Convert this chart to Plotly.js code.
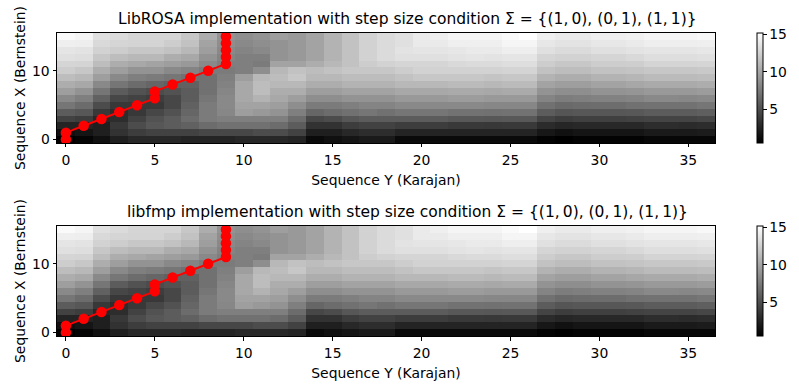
<!DOCTYPE html>
<html>
<head>
<meta charset="utf-8">
<script src="https://cdn.plot.ly/plotly-3.0.1.min.js"></script>
<style>html,body{margin:0;padding:0;background:#fff;}#chart{width:799px;height:389px;}</style>
</head>
<body>
<div id="chart"></div>
<script>
// Cost matrix rows (row index = Sequence X (Bernstein), column index = Sequence Y (Karajan))
const costRow00 = [0.5,0.8,1.4,2.3,2.8,2.8, 2.8,2.6,2.6,2.6,2.8,2.8, 2.8,2.6,1.1,1.4,1.7,2.0, 2.0,1.1,1.1,1.1,1.1,1.1, 1.1,1.1,1.1,0.7,0.5,0.7, 0.7,0.7,0.7,0.9,0.9,0.9,0.9];
const costRow01 = [1.4,1.7,2.3,3.4,4.0,4.3, 4.3,4.3,4.6,4.6,4.6,4.9, 4.9,4.3,2.3,2.3,2.8,3.1, 3.1,2.6,2.6,2.6,2.6,2.6, 2.6,2.6,2.6,1.8,1.5,1.7, 1.7,1.7,1.7,2.0,2.0,2.0,2.1];
const costRow02 = [2.6,2.6,2.3,3.7,4.9,5.5, 5.8,6.1,6.7,7.0,7.0,7.0, 6.7,5.8,3.4,3.4,4.0,4.3, 4.3,4.0,4.0,4.0,3.8,3.8, 3.7,3.8,3.8,3.0,2.7,2.8, 2.8,2.8,2.8,3.1,3.1,3.0,3.1];
const costRow03 = [4.3,4.0,2.8,3.1,4.3,5.2, 5.8,6.7,7.6,7.8,7.8,7.8, 7.8,6.7,4.6,4.9,5.5,5.8, 5.8,5.8,5.8,5.8,5.6,5.6, 5.5,5.6,5.6,4.4,4.0,4.2, 4.2,4.2,4.3,4.4,4.4,4.4,4.6];
const costRow04 = [5.8,5.5,3.7,3.1,3.7,4.6, 5.2,6.4,7.6,8.3,9.6,9.3, 9.0,7.8,6.4,6.7,7.0,7.3, 7.0,7.3,7.3,7.3,7.1,7.1, 7.0,7.1,7.1,5.8,5.4,5.5, 5.5,5.5,5.6,5.8,5.8,5.8,6.0];
const costRow05 = [7.3,6.7,4.9,3.7,3.7,3.7, 4.6,6.1,7.6,8.4,9.9,9.9, 9.6,8.7,7.6,7.6,7.8,8.1, 8.1,8.4,8.4,8.4,8.4,8.4, 8.3,8.3,8.3,7.0,6.6,6.7, 6.8,6.8,7.0,7.1,7.1,7.1,7.3];
const costRow06 = [8.4,7.8,6.1,4.6,4.3,4.0, 4.6,5.8,7.3,8.4,10.2,10.8, 10.2,9.6,8.7,8.7,9.0,9.0, 9.0,9.3,9.3,9.3,9.5,9.5, 9.3,9.3,9.3,8.1,7.7,7.8, 8.0,8.0,8.1,8.4,8.4,8.3,8.4];
const costRow07 = [9.6,9.0,7.3,5.8,5.2,4.9, 5.2,5.8,7.0,8.2,10.2,11.4, 10.5,10.5,9.6,9.6,9.9,9.9, 9.9,10.2,10.2,10.2,10.3,10.3, 10.2,10.3,10.3,9.0,8.7,8.7, 9.0,9.0,9.1,9.3,9.3,9.3,9.5];
const costRow08 = [10.5,10.2,8.4,7.3,6.7,6.4, 6.1,6.1,7.0,8.0,10.2,11.4, 11.1,11.1,10.5,10.5,10.8,10.8, 10.8,11.1,11.1,11.1,11.3,11.3, 11.1,11.3,11.3,9.9,9.6,9.6, 9.9,9.9,10.1,10.3,10.3,10.3,10.5];
const costRow09 = [11.4,11.1,9.6,8.4,7.8,7.6, 7.3,7.0,7.0,7.8,9.6,11.1, 11.4,12.0,11.1,11.1,11.4,11.4, 11.4,11.7,12.0,12.0,12.0,12.0, 11.8,12.0,12.0,10.8,10.5,10.5, 10.8,10.8,11.0,11.3,11.3,11.3,11.4];
const costRow10 = [12.3,12.0,10.5,9.6,9.0,9.0, 8.4,8.1,7.6,7.6,7.8,8.7, 11.1,11.7,11.4,11.7,12.0,12.0, 12.0,12.3,12.6,12.6,12.6,12.6, 12.6,12.7,12.7,11.7,11.4,11.4, 11.7,11.7,11.8,12.0,12.0,12.0,12.1];
const costRow11 = [12.8,12.7,11.4,10.5,10.2,9.9, 9.6,9.3,8.4,7.8,7.8,7.6, 9.9,9.9,10.5,11.1,11.7,12.3, 12.6,12.8,12.8,12.8,13.0,13.1, 13.1,13.3,13.3,12.3,12.0,12.0, 12.3,12.3,12.4,12.7,12.7,12.7,12.8];
const costRow12 = [13.4,13.3,12.0,11.4,11.1,11.1, 10.5,10.2,9.0,8.1,7.8,7.8, 9.0,9.3,9.9,10.8,11.7,12.6, 13.1,13.4,13.4,13.4,13.6,13.7, 13.6,13.7,13.7,12.8,12.6,12.6, 12.8,12.8,13.0,13.3,13.3,13.3,13.4];
const costRow13 = [13.7,13.6,12.6,12.3,12.0,12.0, 11.7,11.1,9.6,8.4,8.1,8.4, 9.0,9.3,9.9,10.8,11.7,12.6, 13.1,13.6,13.7,13.7,13.8,14.0, 14.0,14.2,14.2,13.4,13.1,13.1, 13.4,13.4,13.6,13.7,13.7,13.7,13.8];
const costRow14 = [14.3,14.2,13.0,12.8,12.7,12.7, 12.3,11.7,9.9,8.7,8.4,8.7, 9.0,9.3,9.9,10.8,11.7,12.6, 13.1,13.4,14.0,14.0,14.3,14.3, 14.3,14.6,14.6,13.8,13.6,13.6, 13.8,13.8,14.0,14.2,14.2,14.2,14.3];
const costRow15 = [14.9,14.6,13.4,13.1,12.8,12.8, 12.8,12.0,10.5,9.0,8.7,9.0, 9.6,9.3,9.9,10.8,11.7,12.6, 13.1,13.4,14.0,14.3,14.6,14.6, 14.6,14.9,15.2,14.3,14.0,14.0, 14.3,14.3,14.4,14.6,14.6,14.6,14.8];

// Optimal warping path (column = Sequence Y index, row = Sequence X index)
const pathY = [0,0,1,2,3,4,5,5,6,7,8,9,9,9,9,9];
const pathX = [0,1,2,3,4,5,6,7,8,9,10,11,12,13,14,15];

const titles = [
  'LibROSA implementation with step size condition Σ = {(1,\u20090), (0,\u20091), (1,\u20091)}',
  'libfmp implementation with step size condition Σ = {(1,\u20090), (0,\u20091), (1,\u20091)}'
];
const xTicks = [0,5,10,15,20,25,30,35];
const yTicks = [0,10];
const cbTicks = [5,10,15];

const z = [costRow00,costRow01,costRow02,costRow03,costRow04,costRow05,costRow06,costRow07,
           costRow08,costRow09,costRow10,costRow11,costRow12,costRow13,costRow14,costRow15];

const FONT = 'DejaVu Sans, sans-serif';
const FS = 13.9;
const gray = [[0,'#000000'],[1,'#ffffff']];

function cb(yTop){
  return {
    x: 1.062, xanchor:'left', y: yTop, yanchor:'top', len: 0.363, lenmode:'fraction',
    thickness: 6, thicknessmode:'pixels', xpad:0, ypad:0,
    outlinewidth:1, outlinecolor:'#000',
    tickvals: cbTicks, ticks:'outside', ticklen:3.5, tickwidth:1, tickcolor:'#000',
    tickfont:{family:FONT,size:FS,color:'#000'}
  };
}

const traces = [
  {type:'heatmap', z:z, colorscale:gray, xaxis:'x', yaxis:'y', colorbar:cb(1), hoverinfo:'z'},
  {type:'scatter', mode:'lines+markers', x:pathY, y:pathX, xaxis:'x', yaxis:'y',
   line:{color:'#ff0000', width:2}, marker:{color:'#ff0000', size:10.5}, showlegend:false},
  {type:'heatmap', z:z, colorscale:gray, xaxis:'x2', yaxis:'y2', colorbar:cb(0.363), hoverinfo:'z'},
  {type:'scatter', mode:'lines+markers', x:pathY, y:pathX, xaxis:'x2', yaxis:'y2',
   line:{color:'#ff0000', width:2}, marker:{color:'#ff0000', size:10.5}, showlegend:false}
];

function xa(anchor){
  return {anchor:anchor, range:[-0.5,36.5], tickvals:xTicks, ticks:'outside', ticklen:3.5,
    tickcolor:'#000', showline:true, mirror:true, linecolor:'#000', linewidth:1, showgrid:false,
    zeroline:false, tickfont:{family:FONT,size:FS,color:'#000'}, ticklabelstandoff:1,
    title:{text:'Sequence Y (Karajan)', font:{family:FONT,size:FS,color:'#000'}, standoff:8}};
}
function ya(anchor, dom){
  return {anchor:anchor, domain:dom, range:[-0.5,15.5], tickvals:yTicks, ticks:'outside', ticklen:3.5,
    tickcolor:'#000', showline:true, mirror:true, linecolor:'#000', linewidth:1, showgrid:false,
    zeroline:false, tickfont:{family:FONT,size:FS,color:'#000'},
    title:{text:'Sequence X (Bernstein)', font:{family:FONT,size:FS,color:'#000'}, standoff:3}};
}

const layout = {
  width:799, height:389,
  margin:{l:57, r:83, t:33, b:53},
  paper_bgcolor:'#fff', plot_bgcolor:'#fff',
  showlegend:false,
  font:{family:FONT, color:'#000'},
  xaxis: xa('y'),
  yaxis: ya('x',[0.637,1]),
  xaxis2: xa('y2'),
  yaxis2: ya('x2',[0,0.363]),
  annotations: [
    {text:titles[0], xref:'x domain', yref:'y domain', x:0.5, y:1, xanchor:'center', yanchor:'bottom',
     xshift:21, yshift:3, showarrow:false, font:{family:FONT,size:15.5,color:'#000'}},
    {text:titles[1], xref:'x2 domain', yref:'y2 domain', x:0.5, y:1, xanchor:'center', yanchor:'bottom',
     xshift:21, yshift:3, showarrow:false, font:{family:FONT,size:15.5,color:'#000'}}
  ]
};

Plotly.newPlot('chart', traces, layout, {staticPlot:true, displayModeBar:false});
</script>
</body>
</html>
